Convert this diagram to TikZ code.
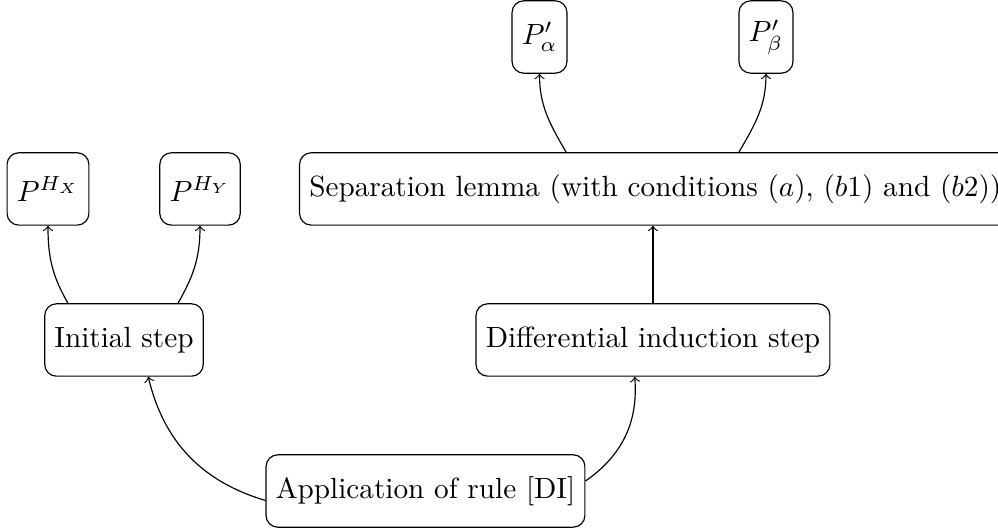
\documentclass[tikz,border=0pt]{standalone}
\usetikzlibrary{calc,positioning}
\begin{document}
\begin{tikzpicture}[->,>=to,auto,box node/.style={draw,rounded corners,minimum height=0.87cm}]

    \useasboundingbox (0,0) rectangle (12.0,-6.36);

    \node[box node] (app) at (5.116,-5.904) {Application of rule [DI]};
    \node[box node] (init) at (1.491,-4.088) {Initial step};
    \node[box node] (diff) at (7.851,-4.088) {Differential induction step};

    \node[box node] (hx) at (0.577,-2.272) {$P^{H_X}$};
    \node[box node] (hy) at (2.405,-2.272) {$P^{H_Y}$};
    \node[box node,anchor=west] (sep) at (3.595,-2.272) {Separation lemma (with conditions $(a)$, $(b1)$ and $(b2)$)};

    \node[box node] (pa) at (6.487,-0.445) {$P'_\alpha$};
    \node[box node] (pb) at (9.210,-0.445) {$P'_\beta$};

    \path
        (app) edge[bend left] (init)
        (app) edge[bend right] (diff)
        (diff) edge (diff |- sep.south)
    ;

    \path
        ($(init.north -| hx)+(0.24,0)$) edge[out=120,in=-90] (hx)
        ($(init.north -| hy)+(-0.265,0)$) edge[out=60,in=-90] (hy)
        ($(sep.north -| pa)+(0.32,0)$) edge[out=120,in=-90] (pa)
        ($(sep.north -| pb)+(-0.325,0)$) edge[out=60,in=-90] (pb)
    ;

\end{tikzpicture}
\end{document}
